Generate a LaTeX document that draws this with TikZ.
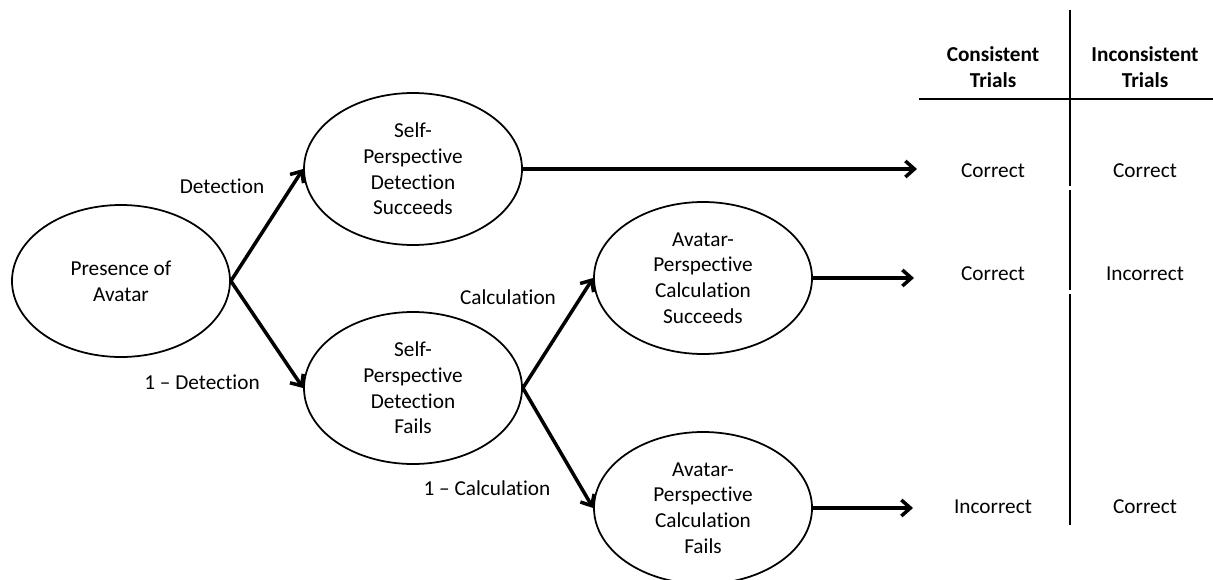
\documentclass[tikz,border=0pt]{standalone}
\usepackage{fontspec}
\setmainfont{Carlito}[Ligatures={NoCommon}]
\usepackage{tikz}
\usetikzlibrary{shapes.geometric}
\usetikzlibrary{arrows.meta}
\newcommand{\ovlw}{4.36cm}
\newcommand{\ovlh}{3.04cm}
\newcommand{\colx}{19.86}
\newcommand{\coly}{22.90}
\newcommand{\sepx}{21.40}
\newcommand{\rowa}{-3.42}
\newcommand{\rowb}{-5.48}
\newcommand{\rowc}{-10.14}

\begin{document}
\begin{tikzpicture}[font=\fontsize{12.1}{14.6}\selectfont,
    stage/.style={ellipse, draw, line width=1pt, minimum width=\ovlw,
      minimum height=\ovlh, inner sep=0pt, align=center},
    branch/.style={line width=2pt, -{Straight Barb[length=1.8mm,width=3.2mm]}},
    prob/.style={inner sep=0pt},
    cell/.style={inner sep=0pt, align=center},
    rule/.style={line width=1pt}]

    \useasboundingbox (0,0) rectangle (24.26,-11.58);

    \node [stage] (pres)  at (2.42,-5.62)   {Presence of\\Avatar};
    \node [stage] (selfS) at (8.26,-3.38)   {Self-\\Perspective\\Detection\\Succeeds};
    \node [stage] (selfF) at (8.26,-7.76)   {Self-\\Perspective\\Detection\\Fails};
    \node [stage] (avS)   at (14.06,-5.56)  {Avatar-\\Perspective\\Calculation\\Succeeds};
    \node [stage] (avF)   at (14.06,-10.16) {Avatar-\\Perspective\\Calculation\\Fails};

    \node [prob] (pdet)  at (4.44,-3.72)  {Detection};
    \node [prob] (pndet) at (4.04,-7.64)  {1 -- Detection};
    \node [prob] (pcal)  at (10.16,-5.94) {Calculation};
    \node [prob] (pncal) at (9.74,-9.76)  {1 -- Calculation};

    \coordinate (outa) at (18.34,\rowa);
    \coordinate (outb) at (18.28,\rowb);
    \coordinate (outc) at (18.26,\rowc);

    \draw [branch] (pres.east) -- (selfS.west);
    \draw [branch] (pres.east) -- (selfF.west);
    \draw [branch] (selfF.east) -- (avS.west);
    \draw [branch] (selfF.east) -- (avF.west);
    \draw [branch] (selfS.east) -- (selfS.east -| outa);
    \draw [branch] (avS.east) -- (avS.east -| outb);
    \draw [branch] (avF.east) -- (avF.east -| outc);

    \node [cell, font=\fontsize{12.1}{14.6}\selectfont\bfseries] (hcon) at (\colx,-1.34) {Consistent\\Trials};
    \node [cell, font=\fontsize{12.1}{14.6}\selectfont\bfseries] (hinc) at (\coly,-1.34) {Inconsistent\\Trials};

    \node [cell] (aa) at (\colx,\rowa) {Correct};
    \node [cell] (ab) at (\coly,\rowa) {Correct};
    \node [cell] (ba) at (\colx,\rowb) {Correct};
    \node [cell] (bb) at (\coly,\rowb) {Incorrect};
    \node [cell] (ca) at (\colx,\rowc) {Incorrect};
    \node [cell] (cb) at (\coly,\rowc) {Correct};

    \draw [rule] (18.38,-1.98) -- (24.26,-1.98);
    \draw [rule] (\sepx,-0.20) -- (\sepx,-3.72);
    \draw [rule] (\sepx,-3.80) -- (\sepx,-5.80);
    \draw [rule] (\sepx,-5.88) -- (\sepx,-10.50);

\end{tikzpicture}
\end{document}
